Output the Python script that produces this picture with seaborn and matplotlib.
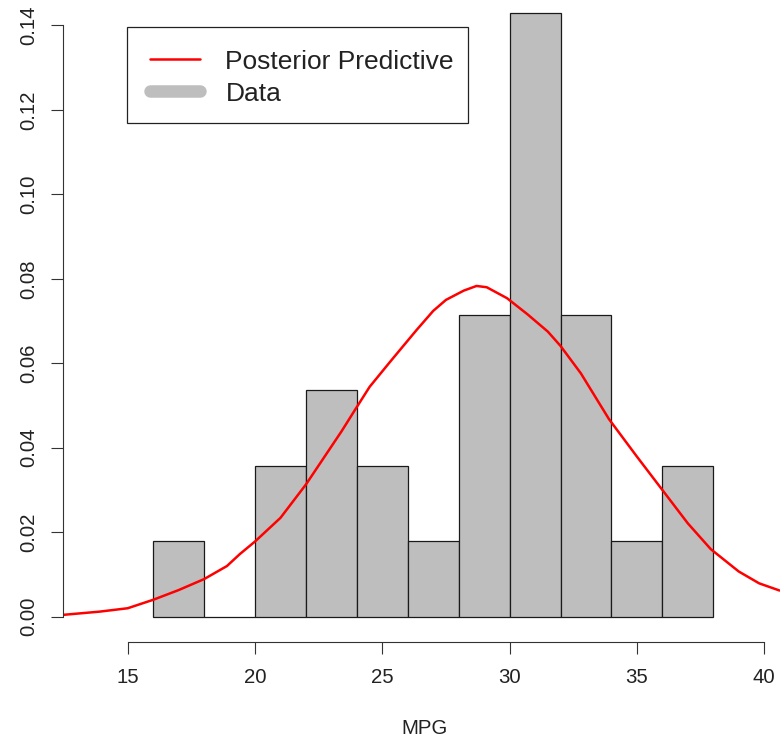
import numpy as np
import matplotlib
matplotlib.use("Agg")
import matplotlib.pyplot as plt
from matplotlib.lines import Line2D
from matplotlib.patches import Rectangle
import seaborn as sns

# histogram of observed MPG (bins of width 2)
bin_edges = [16, 18, 20, 22, 24, 26, 28, 30, 32, 34, 36, 38]
bin_mids = [17, 19, 21, 23, 25, 27, 29, 31, 33, 35, 37]
bin_counts = [1, 0, 2, 3, 2, 1, 4, 8, 4, 1, 2]

# posterior predictive density
curve_x = [12.4, 13.9, 15.0, 15.6, 16.0, 17.0, 18.0, 18.9, 19.4, 20.0, 21.0, 22.0,
           22.8, 23.4, 23.9, 24.5, 25.3, 25.7, 26.35, 27.0, 27.5, 28.2, 28.7, 29.1,
           29.9, 30.7, 31.5, 32.0, 32.8, 33.9, 35.0, 36.0, 37.0, 37.9, 39.0, 39.8, 40.6]
curve_y = [0.0004, 0.0012, 0.0020, 0.0032, 0.0040, 0.0063, 0.0089, 0.0120, 0.0148, 0.0178, 0.0234, 0.0313,
           0.0385, 0.0439, 0.0487, 0.0544, 0.0603, 0.0632, 0.0679, 0.0724, 0.0750, 0.0772, 0.0783, 0.0780,
           0.0754, 0.0716, 0.0675, 0.0641, 0.0576, 0.0468, 0.0379, 0.0300, 0.0221, 0.0160, 0.0107, 0.0079, 0.0062]

x_ticks = [15, 20, 25, 30, 35, 40]
y_ticks = [0.00, 0.02, 0.04, 0.06, 0.08, 0.10, 0.12, 0.14]

sns.set_style("ticks")
plt.rcParams['font.family'] = ['Liberation Sans', 'DejaVu Sans']

fig = plt.figure(figsize=(7.8, 7.4), dpi=100)
ax = fig.add_axes([63 / 780, (740 - 641.7) / 740, 717 / 780, 641.7 / 740])

sns.histplot(x=bin_mids, weights=bin_counts, bins=bin_edges, stat='density',
             color='#BEBEBE', edgecolor='#1a1a1a', linewidth=0.9, alpha=1, ax=ax)
sns.lineplot(x=curve_x, y=curve_y, color='red', linewidth=1.8, sort=False, ax=ax,
             solid_joinstyle='round', solid_capstyle='round')

ax.set_xlim(12.459, 40.62)
ax.set_ylim(-0.00592, 0.146)

for s in ['top', 'right']:
    ax.spines[s].set_visible(False)
for s in ['left', 'bottom']:
    ax.spines[s].set_color('#333333')
    ax.spines[s].set_linewidth(0.8)
ax.spines['left'].set_bounds(0, 0.14)
ax.spines['bottom'].set_bounds(15, 40)

ax.set_xticks(x_ticks)
ax.set_xticklabels([str(t) for t in x_ticks])
ax.set_yticks(y_ticks)
ax.set_yticklabels(['%.2f' % t for t in y_ticks])
ax.tick_params(axis='both', length=8.6, width=0.8, color='#333333',
               labelsize=14.7, labelcolor='#222222')
ax.tick_params(axis='x', pad=10)
ax.tick_params(axis='y', pad=9)
for lab in ax.get_yticklabels():
    lab.set_rotation(90)
    lab.set_va('center')
    lab.set_ha('right')

ax.set_ylabel('')
ax.set_xlabel('')
fig.text(425 / 780, 1 - 729 / 740, 'MPG', ha='center', va='center',
         fontsize=14.7, color='#222222')

# legend contents, with the box drawn separately (R-style padding)
handles = [Line2D([], [], color='red', linewidth=1.8),
           Line2D([], [], color='#BEBEBE', linewidth=9, solid_capstyle='round')]
leg = ax.legend(handles, ['Posterior Predictive', 'Data'], loc='upper left',
                bbox_to_anchor=(127.3 / 780, 1 - 26.7 / 740), bbox_transform=fig.transFigure,
                borderaxespad=0, fontsize=19, frameon=False,
                handlelength=1.9, handletextpad=0.95, labelspacing=0.3, borderpad=0.87)
for t in leg.get_texts():
    t.set_color('#222222')
fig.patches.append(Rectangle((127.3 / 780, 1 - 123.3 / 740), 341 / 780, 96.6 / 740,
                             transform=fig.transFigure, fill=False,
                             edgecolor='#222222', linewidth=0.9, zorder=10))

fig.savefig('out.png', dpi=100)
